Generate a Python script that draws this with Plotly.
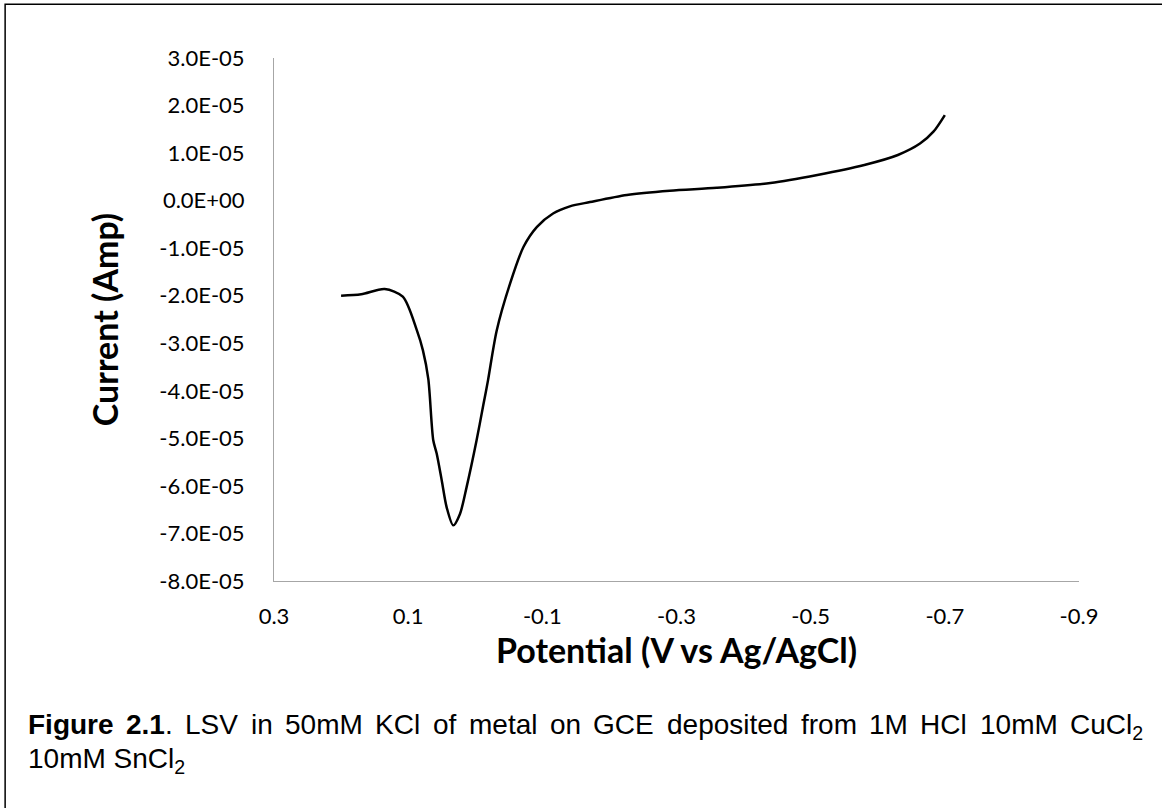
import plotly.graph_objects as go

# Data (potential in V vs Ag/AgCl, current in A)
potential = [0.200, 0.170, 0.135, 0.108, 0.087, 0.078, 0.070, 0.0626, 0.0575, 0.050,
             0.0426, 0.0328, 0.0228, 0.0128, -0.002, -0.012, -0.019, -0.032, -0.052,
             -0.072, -0.092, -0.116, -0.141, -0.171, -0.226, -0.290, -0.360, -0.440,
             -0.510, -0.580, -0.630, -0.663, -0.683, -0.700]
current = [-2.00e-5, -1.97e-5, -1.86e-5, -2.02e-5, -2.73e-5, -3.15e-5, -3.75e-5, -5.04e-5,
           -5.32e-5, -5.88e-5, -6.45e-5, -6.83e-5, -6.59e-5, -6.02e-5, -5.04e-5, -4.30e-5,
           -3.78e-5, -2.73e-5, -1.74e-5, -0.97e-5, -0.55e-5, -0.27e-5, -0.12e-5, -0.03e-5,
           0.12e-5, 0.21e-5, 0.27e-5, 0.37e-5, 0.54e-5, 0.75e-5, 0.96e-5, 1.20e-5, 1.45e-5,
           1.80e-5]

x_ticks = [0.3, 0.1, -0.1, -0.3, -0.5, -0.7, -0.9]
x_ticktext = ["0.3", "0.1", "-0.1", "-0.3", "-0.5", "-0.7", "-0.9"]
y_ticks = [3e-5, 2e-5, 1e-5, 0, -1e-5, -2e-5, -3e-5, -4e-5, -5e-5, -6e-5, -7e-5, -8e-5]
y_ticktext = ["3.0E-05", "2.0E-05", "1.0E-05", "0.0E+00", "-1.0E-05", "-2.0E-05",
              "-3.0E-05", "-4.0E-05", "-5.0E-05", "-6.0E-05", "-7.0E-05", "-8.0E-05"]

x_title = "Potential (V vs Ag/AgCl)"
y_title = "Current (Amp)"
# caption, first (justified) line split in words: (bold part, regular part, subscript part)
caption1_words = [("Figure", "", ""), ("2.1", ".", ""), ("", "LSV", ""), ("", "in", ""),
                  ("", "50mM", ""), ("", "KCl", ""), ("", "of", ""), ("", "metal", ""),
                  ("", "on", ""), ("", "GCE", ""), ("", "deposited", ""), ("", "from", ""),
                  ("", "1M", ""), ("", "HCl", ""), ("", "10mM", ""), ("", "CuCl", "2")]
caption2 = "10mM SnCl<sub>2</sub>"

# Arial / Liberation Sans advance widths (1/1000 em) used to justify the caption line
REG = {' ': 278, '.': 278, 'L': 556, 'S': 667, 'V': 667, 'i': 222, 'n': 556, 'm': 833,
       'M': 833, 'K': 667, 'C': 722, 'l': 222, 'o': 556, 'f': 278, 'e': 556, 't': 278,
       'a': 556, 'G': 778, 'E': 667, 'd': 556, 'p': 556, 's': 500, 'r': 333, 'H': 722,
       'u': 556, 'c': 500}
BOLD = {'F': 611, 'i': 278, 'g': 611, 'u': 611, 'r': 389, 'e': 556, '.': 278}


def w_reg(s):
    return sum(556 if ch.isdigit() else REG[ch] for ch in s)


def w_bold(s):
    return sum(556 if ch.isdigit() else BOLD[ch] for ch in s)


CAP_SIZE = 28
line_left_px, line_right_px = 27, 1142
plot_left_px, plot_w_px, plot_bottom_px, plot_h_px = 274, 805, 581, 523

fig = go.Figure()
fig.add_trace(go.Scatter(
    x=potential, y=current, mode="lines",
    line=dict(color="black", width=2.5, shape="spline", smoothing=0.8),
    showlegend=False, hoverinfo="skip"))

axis_font = dict(family="Lato, Carlito, Calibri, sans-serif", size=22, color="black")
title_font = dict(family="Lato, Carlito, Calibri, sans-serif", size=34, color="black")
cap_font = dict(family="Liberation Sans, Arial, sans-serif", size=CAP_SIZE, color="black")

# justified layout of caption line 1
widths = [(w_bold(b) + w_reg(r) + 0.7 * w_reg(s)) * CAP_SIZE / 1000 for b, r, s in caption1_words]
gap = (line_right_px - line_left_px - sum(widths)) / (len(caption1_words) - 1)
annotations = []
xpos = line_left_px
y1 = (plot_bottom_px - 708) / plot_h_px
y2 = (plot_bottom_px - 742) / plot_h_px
for (b, r, s), w in zip(caption1_words, widths):
    txt = ("<b>" + b + "</b>" if b else "") + r + ("<sub>" + s + "</sub>" if s else "")
    annotations.append(dict(text=txt, xref="paper", yref="paper",
                            x=(xpos - plot_left_px) / plot_w_px, y=y1,
                            xanchor="left", yanchor="top", showarrow=False,
                            align="left", font=cap_font, borderpad=0))
    xpos += w + gap
annotations.append(dict(text=caption2, xref="paper", yref="paper",
                        x=(line_left_px - plot_left_px) / plot_w_px, y=y2,
                        xanchor="left", yanchor="top", showarrow=False,
                        align="left", font=cap_font, borderpad=0))

fig.update_layout(
    width=1162, height=808,
    margin=dict(l=274, r=83, t=58, b=227),
    paper_bgcolor="white", plot_bgcolor="white",
    xaxis=dict(range=[0.3, -0.9], tickvals=x_ticks, ticktext=x_ticktext,
               showgrid=False, zeroline=False, showline=True, linecolor="#a6a6a6",
               linewidth=1, ticks="", tickfont=axis_font, ticklabelstandoff=16,
               title=dict(text="<b>" + x_title + "</b>", font=title_font, standoff=4)),
    yaxis=dict(range=[-8e-5, 3e-5], tickvals=y_ticks, ticktext=y_ticktext,
               showgrid=False, zeroline=False, showline=True, linecolor="#a6a6a6",
               linewidth=1, ticks="", tickfont=axis_font, ticklabelstandoff=24,
               title=dict(text="<b>" + y_title + "</b>", font=title_font, standoff=30)),
    shapes=[dict(type="rect", xref="paper", yref="paper",
                 x0=-0.334, x1=1.2, y0=-0.6, y1=1.103,
                 line=dict(color="black", width=1.5), fillcolor="rgba(0,0,0,0)", layer="above")],
    annotations=annotations,
)

fig.write_html("out.html")
